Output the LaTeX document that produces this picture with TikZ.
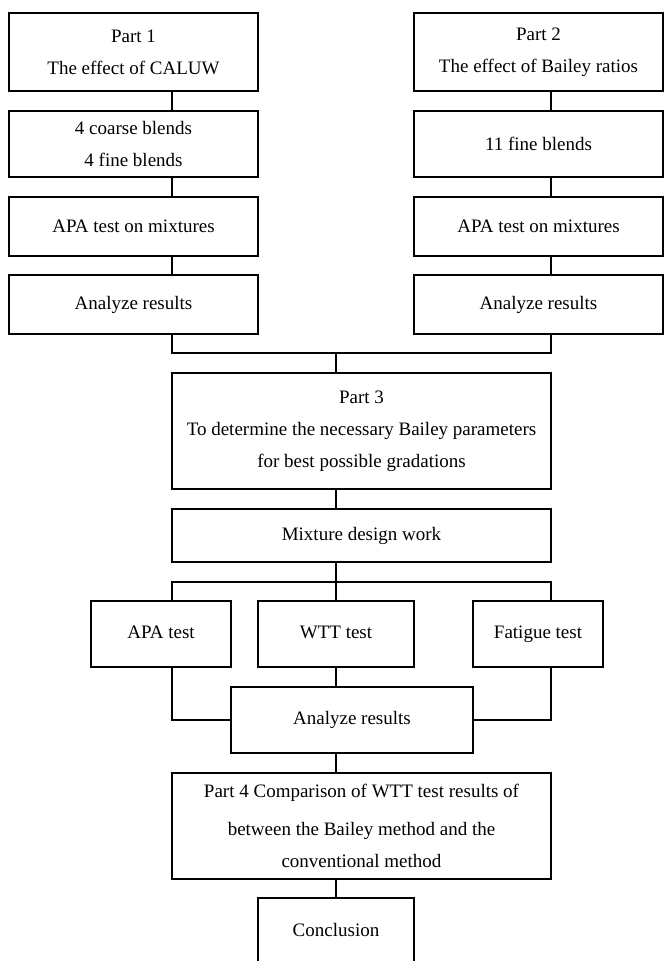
\documentclass[tikz,border=0pt]{standalone}
\usepackage{fontspec}
\setmainfont{Liberation Serif}
\begin{document}
\begin{tikzpicture}[x=1pt,y=-1pt,
    box/.style={draw,line width=1.3pt,rectangle,inner sep=0pt,align=center,
        font=\fontsize{19}{32}\selectfont},
    side/.style={box,minimum width=249pt},
    mid/.style={box,minimum width=379pt},
    small/.style={box,minimum height=66pt,text height=13pt,text depth=4pt},
    link/.style={draw,line width=1.3pt}]
    \useasboundingbox (0,0) rectangle (664,961);
    \coordinate (cl) at (172,0);
    \coordinate (cr) at (551,0);
    \coordinate (cm) at (336,0);
    \coordinate (j1) at (336,353);
    \coordinate (j2) at (336,582);
    \node[side,minimum height=78pt] (p1) at (133.5,52) {Part 1\\The effect of CALUW};
    \node[side,minimum height=66pt] (b1) at (133.5,144) {4 coarse blends\\4 fine blends};
    \node[side,minimum height=59pt] (t1) at (133.5,226.5) {APA test on mixtures};
    \node[side,minimum height=59pt] (r1) at (133.5,304.5) {Analyze results};
    \node[side,minimum height=78pt] (p2) at (538.5,52) {Part 2\\The effect of Bailey ratios};
    \node[side,minimum height=66pt] (b2) at (538.5,144) {11 fine blends};
    \node[side,minimum height=59pt] (t2) at (538.5,226.5) {APA test on mixtures};
    \node[side,minimum height=59pt] (r2) at (538.5,304.5) {Analyze results};
    \node[mid,minimum height=116pt] (p3) at (361.5,431) {Part 3\\To determine the necessary Bailey parameters\\for best possible gradations};
    \node[mid,minimum height=53pt] (mix) at (361.5,535.5) {Mixture design work};
    \node[small,minimum width=140pt] (apa) at (161,634) {APA test};
    \node[small,minimum width=156pt] (wtt) at (336,634) {WTT test};
    \node[small,minimum width=130pt] (fat) at (538,634) {Fatigue test};
    \node[small,minimum width=242pt] (r3) at (352,720) {Analyze results};
    \node[mid,minimum height=106pt] (p4) at (361.5,826) {Part 4 Comparison of WTT test results of\\[6pt]between the Bailey method and the\\conventional method};
    \node[small,minimum width=156pt,minimum height=68pt] (con) at (336,932) {Conclusion};
    \path[link] (p1.south -| cl) -- (b1.north -| cl)
        (b1.south -| cl) -- (t1.north -| cl)
        (t1.south -| cl) -- (r1.north -| cl);
    \path[link] (p2.south -| cr) -- (b2.north -| cr)
        (b2.south -| cr) -- (t2.north -| cr)
        (t2.south -| cr) -- (r2.north -| cr);
    \path[link] (r1.south -| cl) |- (j1) -| (r2.south -| cr);
    \path[link] (j1) -- (p3.north -| j1);
    \path[link] (p3.south -| cm) -- (mix.north -| cm);
    \path[link] (mix.south -| cm) -- (j2);
    \path[link] (apa.north -| cl) |- (j2) -| (fat.north -| cr);
    \path[link] (j2) -- (wtt.north);
    \path[link] (apa.south -| cl) |- (r3.west);
    \path[link] (fat.south -| cr) |- (r3.east);
    \path[link] (wtt.south) -- (r3.north -| cm);
    \path[link] (r3.south -| cm) -- (p4.north -| cm);
    \path[link] (p4.south -| cm) -- (con.north);
\end{tikzpicture}
\end{document}
